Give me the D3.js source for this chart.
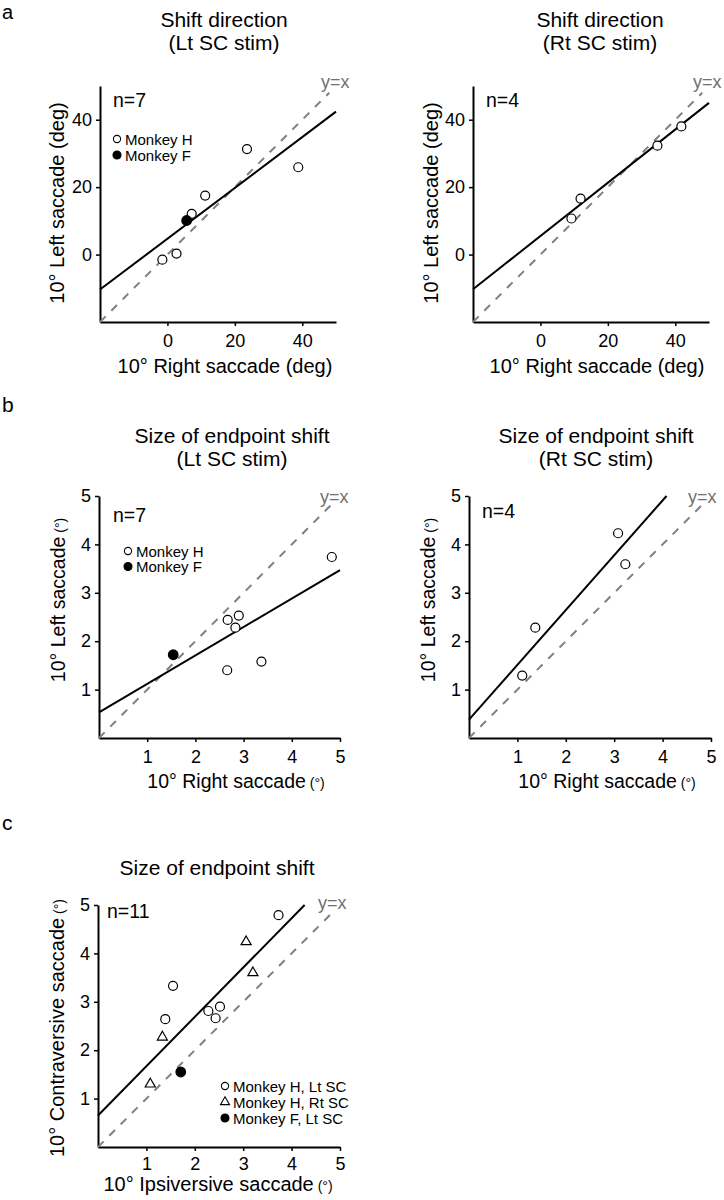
<!DOCTYPE html>
<html>
<head>
<meta charset="utf-8">
<script src="https://cdn.jsdelivr.net/npm/d3@7"></script>
<style>
  body { margin: 0; background: #fff; }
  svg { font-family: Arial, "Liberation Sans", Helvetica, sans-serif; }
</style>
</head>
<body>
<svg id="fig" width="724" height="1200"></svg>
<script>
// ---------- data ----------
// panel a: shift direction (deg)
const aTicks = [0, 20, 40];
const aLeftMonkeyH = [[-1.5, -1.5], [2.7, 0.3], [7.2, 12.1], [11.2, 17.5], [23.6, 31.3], [38.8, 25.9]];
const aLeftMonkeyF = [[5.7, 10.1]];
const aLeftFit = [4.7, 0.754];      // [intercept, slope]
const aRightMonkeyH = [[9.2, 10.7], [11.9, 16.6], [34.7, 32.3], [41.8, 38.0]];
const aRightFit = [5.5, 0.79];

// panel b: size of endpoint shift (deg)
const bTicks = [1, 2, 3, 4, 5];
const bLeftMonkeyH = [[2.67, 2.44], [2.9, 2.53], [2.83, 2.28], [2.66, 1.4], [3.37, 1.58], [4.83, 3.74]];
const bLeftMonkeyF = [[1.54, 1.72]];
const bLeftFit = [0.53, 0.588];
const bRightMonkeyH = [[1.1, 1.29], [1.37, 2.28], [3.08, 4.23], [3.23, 3.59]];
const bRightFit = [0.38, 1.132];

// panel c: pooled, ipsi vs contra
const cMonkeyHLt = [[3.73, 4.79], [1.55, 3.33], [1.39, 2.64], [2.28, 2.81], [2.52, 2.9], [2.43, 2.66]];
const cMonkeyHRt = [[3.06, 4.24], [3.2, 3.6], [1.33, 2.27], [1.08, 1.3]];
const cMonkeyFLt = [[1.71, 1.55]];
const cFit = [0.65, 1.019];

const svg = d3.select("#fig");

// panel letters
svg.append("text").attr("x", 2).attr("y", 19).attr("font-size", 20).text("a");
svg.append("text").attr("x", 2).attr("y", 412).attr("font-size", 21).text("b");
svg.append("text").attr("x", 2).attr("y", 830).attr("font-size", 21).text("c");

function drawPanel(p) {
    const x = d3.scaleLinear().domain(p.domain).range([p.left, p.right]);
    const y = d3.scaleLinear().domain(p.domain).range([p.bottom, p.top]);
    const g = svg.append("g");

    // titles
    p.title.forEach((t, i) => {
        g.append("text")
            .attr("x", p.titleX).attr("y", p.titleY + i * 23)
            .attr("text-anchor", "middle").attr("font-size", 21)
            .text(t);
    });

    // axes
    const fmt = d3.format("d");
    const xAxis = g.append("g")
        .attr("transform", `translate(0,${p.bottom})`)
        .call(d3.axisBottom(x).tickValues(p.ticks).tickFormat(fmt)
            .tickSize(4).tickSizeOuter(0).tickPadding(p.xPad));
    const yAxis = g.append("g")
        .attr("transform", `translate(${p.left},0)`)
        .call(d3.axisLeft(y).tickValues(p.ticks).tickFormat(fmt)
            .tickSize(4).tickSizeOuter(0).tickPadding(4));
    [xAxis, yAxis].forEach(ax => {
        ax.attr("font-family", null);
        ax.select(".domain").attr("stroke", "#000").attr("stroke-width", 2);
        ax.selectAll(".tick line").attr("stroke", "#000").attr("stroke-width", 1.5);
        ax.selectAll(".tick text").attr("font-size", 18).attr("fill", "#000");
    });

    // axis labels
    const xl = g.append("text")
        .attr("x", p.xLabelX).attr("y", p.xLabelY)
        .attr("text-anchor", "middle").attr("font-size", p.labelSize)
        .text(p.xLabel);
    if (p.unitSmall) xl.append("tspan").attr("font-size", 14).text(" (°)");
    const yl = g.append("text")
        .attr("transform", `translate(${p.yLabelX},${p.yLabelY}) rotate(-90)`)
        .attr("text-anchor", "middle").attr("font-size", p.labelSize)
        .text(p.yLabel);
    if (p.unitSmall) yl.append("tspan").attr("font-size", 14).text(" (°)");

    // unity line
    const lo = p.domain[0], hi = p.unityEnd;
    g.append("line")
        .attr("x1", x(lo)).attr("y1", y(lo)).attr("x2", x(hi)).attr("y2", y(hi))
        .attr("stroke", "#808080").attr("stroke-width", 2).attr("stroke-dasharray", "8,8");
    g.append("text")
        .attr("x", p.unityLabel[0]).attr("y", p.unityLabel[1])
        .attr("font-size", 18).attr("fill", "#707070").text("y=x");

    // regression line, clipped to the top of the axis
    const [b0, m] = p.fit;
    const xEnd = Math.min(p.domain[1], (p.domain[1] - b0) / m);
    g.append("line")
        .attr("x1", x(lo)).attr("y1", y(b0 + m * lo))
        .attr("x2", x(xEnd)).attr("y2", y(b0 + m * xEnd))
        .attr("stroke", "#000").attr("stroke-width", 2);

    // n label
    g.append("text").attr("x", p.nPos[0]).attr("y", p.nPos[1])
        .attr("font-size", 19.5).text(p.n);

    // points
    p.series.forEach(s => {
        const sel = g.selectAll(null).data(s.data);
        if (s.shape === "triangle") {
            sel.enter().append("path")
                .attr("d", d3.symbol(d3.symbolTriangle, 44)())
                .attr("transform", d => `translate(${x(d[0])},${y(d[1])})`)
                .attr("fill", "#fff").attr("stroke", "#000").attr("stroke-width", 1.2);
        } else {
            sel.enter().append("circle")
                .attr("cx", d => x(d[0])).attr("cy", d => y(d[1]))
                .attr("r", s.filled ? 4.8 : 4.5)
                .attr("fill", s.filled ? "#000" : "#fff")
                .attr("stroke", "#000").attr("stroke-width", 1.2);
        }
    });

    // legend
    if (p.legend) {
        p.legend.items.forEach((it, i) => {
            const ly = p.legend.y + i * p.legend.step;
            if (it.shape === "triangle") {
                g.append("path").attr("d", d3.symbol(d3.symbolTriangle, 36)())
                    .attr("transform", `translate(${p.legend.x},${ly})`)
                    .attr("fill", "#fff").attr("stroke", "#000").attr("stroke-width", 1.1);
            } else {
                g.append("circle").attr("cx", p.legend.x).attr("cy", ly)
                    .attr("r", it.filled ? 4 : 3.6)
                    .attr("fill", it.filled ? "#000" : "#fff")
                    .attr("stroke", "#000").attr("stroke-width", 1.1);
            }
            g.append("text").attr("x", p.legend.x + 8).attr("y", ly + 5.5)
                .attr("font-size", 15).text(it.label);
        });
    }
}

const legendHF = [
    { label: "Monkey H", filled: false },
    { label: "Monkey F", filled: true }
];

drawPanel({
    domain: [-20, 50], ticks: aTicks, left: 100, right: 336, top: 86, bottom: 322,
    title: ["Shift direction", "(Lt SC stim)"], titleX: 224, titleY: 27,
    xLabel: "10° Right saccade (deg)", xLabelX: 225, xLabelY: 373, xPad: 8, labelSize: 20,
    yLabel: "10° Left saccade (deg)", yLabelX: 64, yLabelY: 203,
    unityEnd: 48, unityLabel: [321, 88], fit: aLeftFit, n: "n=7", nPos: [113, 107],
    series: [{ data: aLeftMonkeyH, filled: false }, { data: aLeftMonkeyF, filled: true }],
    legend: { x: 117, y: 139, step: 16, items: legendHF }
});

drawPanel({
    domain: [-20, 50], ticks: aTicks, left: 473, right: 709, top: 86, bottom: 322,
    title: ["Shift direction", "(Rt SC stim)"], titleX: 600, titleY: 27,
    xLabel: "10° Right saccade (deg)", xLabelX: 597, xLabelY: 373, xPad: 8, labelSize: 20,
    yLabel: "10° Left saccade (deg)", yLabelX: 438, yLabelY: 203,
    unityEnd: 48, unityLabel: [693, 88], fit: aRightFit, n: "n=4", nPos: [486, 107],
    series: [{ data: aRightMonkeyH, filled: false }]
});

drawPanel({
    domain: [0, 5], ticks: bTicks, left: 99, right: 340, top: 496, bottom: 738,
    title: ["Size of endpoint shift", "(Lt SC stim)"], titleX: 232, titleY: 443,
    xLabel: "10° Right saccade", unitSmall: true, xLabelX: 236, xLabelY: 788, xPad: 8, labelSize: 19.5,
    yLabel: "10° Left saccade", yLabelX: 65, yLabelY: 600,
    unityEnd: 4.8, unityLabel: [320, 503], fit: bLeftFit, n: "n=7", nPos: [113, 522],
    series: [{ data: bLeftMonkeyH, filled: false }, { data: bLeftMonkeyF, filled: true }],
    legend: { x: 128, y: 551, step: 15.5, items: legendHF }
});

drawPanel({
    domain: [0, 5], ticks: bTicks, left: 469, right: 711, top: 496, bottom: 738,
    title: ["Size of endpoint shift", "(Rt SC stim)"], titleX: 596, titleY: 443,
    xLabel: "10° Right saccade", unitSmall: true, xLabelX: 607, xLabelY: 788, xPad: 8, labelSize: 19.5,
    yLabel: "10° Left saccade", yLabelX: 435, yLabelY: 600,
    unityEnd: 4.8, unityLabel: [688, 503], fit: bRightFit, n: "n=4", nPos: [482, 518],
    series: [{ data: bRightMonkeyH, filled: false }]
});

drawPanel({
    domain: [0, 5], ticks: bTicks, left: 98, right: 340, top: 905, bottom: 1147,
    title: ["Size of endpoint shift"], titleX: 217, titleY: 875,
    xLabel: "10° Ipsiversive saccade", unitSmall: true, xLabelX: 218, xLabelY: 1191, xPad: 6, labelSize: 20,
    yLabel: "10° Contraversive saccade", yLabelX: 64, yLabelY: 1028,
    unityEnd: 4.8, unityLabel: [318, 909], fit: cFit, n: "n=11", nPos: [107, 918],
    series: [
        { data: cMonkeyHLt, filled: false },
        { data: cMonkeyHRt, shape: "triangle" },
        { data: cMonkeyFLt, filled: true }
    ],
    legend: {
        x: 225, y: 1086, step: 16, items: [
            { label: "Monkey H, Lt SC", filled: false },
            { label: "Monkey H, Rt SC", shape: "triangle" },
            { label: "Monkey F, Lt SC", filled: true }
        ]
    }
});
</script>
</body>
</html>
